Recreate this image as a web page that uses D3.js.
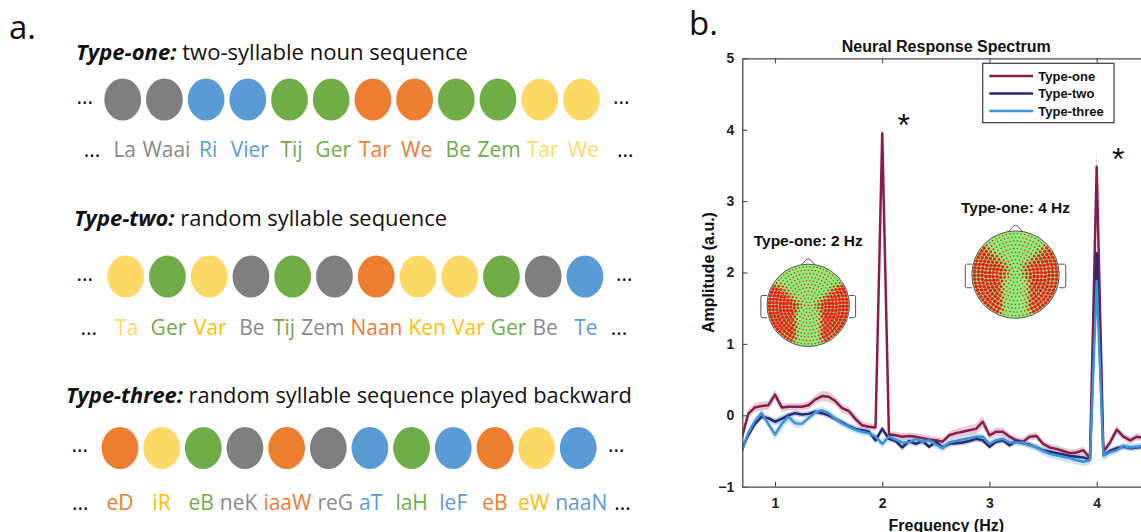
<!DOCTYPE html>
<html><head><meta charset="utf-8">
<script src="https://cdn.jsdelivr.net/npm/d3@7"></script>
<style>body{margin:0;background:#fff} svg{display:block}</style>
</head><body>
<svg id="c" width="1141" height="532"></svg>
<script>
// ---------------- DATA ----------------
// panel a
const headersBold = ["Type-one:", "Type-two:", "Type-three:"];
const headersText = ["two-syllable noun sequence", "random syllable sequence", "random syllable sequence played backward"];
const circlesOne   = ["gray","gray","blue","blue","green","green","orange","orange","green","green","yellow","yellow"];
const syllablesOne = ["La","Waai","Ri","Vier","Tij","Ger","Tar","We","Be","Zem","Tar","We"];
const sylColorsOne = ["gray","gray","blue","blue","green","green","orange","orange","green","green","yellow","yellow"];
const circlesTwo   = ["yellow","green","yellow","gray","green","gray","orange","yellow","yellow","green","gray","blue"];
const syllablesTwo = ["Ta","Ger","Var","Be","Tij","Zem","Naan","Ken","Var","Ger","Be","Te"];
const sylColorsTwo = ["yellow","green","gold","gray","green","gray","orange","gold","gold","green","gray","blue"];
const circlesThree   = ["orange","yellow","green","gray","orange","gray","blue","green","blue","orange","yellow","blue"];
const syllablesThree = ["eD","iR","eB","neK","iaaW","reG","aT","laH","leF","eB","eW","naaN"];
const sylColorsThree = ["orange","gold","green","gray","orange","gray","blue","green","blue","orange","gold","blue"];

// panel b
const seriesNames = ["Type-one", "Type-two", "Type-three"];
const freqs = [0.6875,0.75,0.8125,0.875,0.9375,1.0,1.0625,1.125,1.1875,1.25,
  1.3125,1.375,1.4375,1.5,1.5625,1.625,1.6875,1.75,1.8125,1.875,
  1.9375,2.0,2.0625,2.125,2.1875,2.25,2.3125,2.375,2.4375,2.5,
  2.5625,2.625,2.6875,2.75,2.8125,2.875,2.9375,3.0,3.0625,3.125,
  3.1875,3.25,3.3125,3.375,3.4375,3.5,3.5625,3.625,3.6875,3.75,
  3.8125,3.875,3.9375,4.0,4.0625,4.125,4.1875,4.25,4.3125,4.375,4.4375];
const typeOne = [-0.33,0.02,0.11,0.13,0.14,0.29,0.11,0.12,0.12,0.12,
  0.14,0.22,0.27,0.26,0.20,0.10,0.06,-0.05,-0.14,-0.16,
  -0.17,3.95,-0.27,-0.28,-0.30,-0.29,-0.30,-0.32,-0.34,-0.35,
  -0.37,-0.28,-0.25,-0.23,-0.21,-0.19,-0.09,-0.28,-0.23,-0.23,
  -0.30,-0.35,-0.37,-0.30,-0.29,-0.40,-0.45,-0.47,-0.50,-0.53,
  -0.52,-0.49,-0.60,3.48,-0.51,-0.38,-0.20,-0.30,-0.35,-0.30,-0.32];
const typeTwo = [-0.49,-0.28,-0.12,-0.02,-0.04,-0.09,-0.05,0.00,0.03,0.01,
  0.02,0.05,0.03,0.00,-0.05,-0.10,-0.15,-0.19,-0.21,-0.23,
  -0.35,-0.19,-0.33,-0.36,-0.45,-0.36,-0.40,-0.36,-0.44,-0.37,
  -0.45,-0.40,-0.39,-0.38,-0.36,-0.33,-0.35,-0.44,-0.37,-0.35,
  -0.42,-0.36,-0.39,-0.41,-0.45,-0.49,-0.51,-0.53,-0.55,-0.57,
  -0.58,-0.59,-0.62,2.27,-0.56,-0.50,-0.46,-0.44,-0.46,-0.45,-0.44];
const typeThree = [-0.51,-0.25,-0.08,0.03,-0.12,-0.27,-0.12,-0.02,-0.11,-0.12,
  -0.04,0.04,0.07,0.03,-0.05,-0.11,-0.16,-0.20,-0.23,-0.25,
  -0.30,-0.40,-0.30,-0.34,-0.38,-0.38,-0.33,-0.37,-0.35,-0.41,
  -0.46,-0.38,-0.36,-0.34,-0.32,-0.30,-0.30,-0.40,-0.35,-0.33,
  -0.38,-0.38,-0.38,-0.42,-0.45,-0.50,-0.54,-0.56,-0.58,-0.60,
  -0.63,-0.65,-0.63,1.88,-0.56,-0.52,-0.49,-0.43,-0.45,-0.44,-0.43];
const semOne = [0.06,0.06,0.06,0.06,0.06,0.07,0.06,0.05,0.05,0.05,
  0.06,0.06,0.07,0.07,0.06,0.06,0.06,0.06,0.06,0.05,
  0.05,0.18,0.05,0.05,0.05,0.05,0.05,0.05,0.05,0.05,
  0.05,0.05,0.06,0.06,0.07,0.07,0.08,0.06,0.06,0.06,
  0.05,0.05,0.05,0.05,0.05,0.05,0.05,0.05,0.05,0.05,
  0.05,0.05,0.05,0.26,0.06,0.06,0.06,0.05,0.05,0.05,0.05];
const semTwo = [0.05,0.05,0.05,0.04,0.04,0.05,0.05,0.04,0.04,0.04,
  0.04,0.04,0.04,0.04,0.04,0.04,0.04,0.04,0.04,0.04,
  0.05,0.05,0.04,0.04,0.05,0.04,0.04,0.04,0.04,0.04,
  0.04,0.04,0.04,0.04,0.04,0.04,0.04,0.04,0.04,0.04,
  0.04,0.04,0.04,0.04,0.04,0.04,0.04,0.04,0.04,0.04,
  0.04,0.04,0.04,0.15,0.05,0.04,0.04,0.04,0.04,0.04,0.04];
const semThree = [0.05,0.05,0.05,0.05,0.06,0.07,0.08,0.07,0.06,0.05,
  0.05,0.05,0.05,0.05,0.05,0.05,0.05,0.05,0.05,0.05,
  0.05,0.06,0.05,0.05,0.05,0.05,0.05,0.05,0.05,0.05,
  0.05,0.05,0.05,0.05,0.05,0.05,0.05,0.05,0.05,0.05,
  0.05,0.05,0.05,0.05,0.05,0.06,0.06,0.06,0.06,0.06,
  0.06,0.06,0.06,0.15,0.07,0.05,0.05,0.05,0.05,0.05,0.05];
const xTicks = [1, 2, 3, 4];
const yTicks = [-1, 0, 1, 2, 3, 4, 5];
const peakFreqs = [2, 4];           // significant peaks (asterisks)
const topoLabels = ["Type-one: 2 Hz", "Type-one: 4 Hz"];
// electrode significance maps read from the topoplots ('#' large dot, '+' medium, '.' small)
const maskTwoHz = [
  "...........",
  "...........",
  "+.........+",
  "##+.....+##",
  "###+...+###",
  "####+.+####",
  "####...####",
  "####...####",
  "+###...###+",
  "..+#...#+..",
  "..........."];
const maskFourHz = [
  "...........",
  "...........",
  "##+.....+##",
  "###+...+###",
  "####+.+####",
  "####+.+####",
  "####...####",
  "####...####",
  "+###...###+",
  ".+##...##+.",
  "..........."];

// ---------------- DRAW ----------------
const svg = d3.select("#c");
const pal = {gray:"#7f7f7f", blue:"#5b9bd5", green:"#70ad47", orange:"#ed7d31", yellow:"#ffd966", gold:"#ffc000"};
const txtPal = {gray:"#8a8a8a", blue:"#5b9bd5", green:"#70ad47", orange:"#ed7d31", yellow:"#ffd966", gold:"#ffc000"};
const LF = "'Open Sans', 'DejaVu Sans', sans-serif";

// panel label a.
svg.append("text").attr("x", 9).attr("y", 39).attr("font-family", LF).attr("font-size", 33).attr("fill", "#111").text("a.");

const rowLayout = [
  {hx:76, hy:60,    hw:392, cy:99.5,  cx0:122.7, step:41.7,  sy:156.7, dl:93,  dr:613, gl:13, gr:18, shift:2},
  {hx:74, hy:225.7, hw:373, cy:276.5, cx0:125.7, step:41.75, sy:335,   dl:93,  dr:616, gl:18, gr:13, shift:1},
  {hx:66, hy:403.3, hw:566, cy:448,   cx0:120,   step:41.66, sy:510,   dl:88,  dr:608, gl:18, gr:7,  shift:0}
];
const rowCircles = [circlesOne, circlesTwo, circlesThree];
const rowSyl = [syllablesOne, syllablesTwo, syllablesThree];
const rowSylCol = [sylColorsOne, sylColorsTwo, sylColorsThree];

function relax(centers, widths, gap) {
  const c = centers.slice();
  for (let it = 0; it < 300; it++) {
    let moved = false;
    for (let i = 0; i < c.length - 1; i++) {
      const need = widths[i] / 2 + widths[i + 1] / 2 + gap - (c[i + 1] - c[i]);
      if (need > 0.01) { c[i] -= need / 2; c[i + 1] += need / 2; moved = true; }
    }
    if (!moved) break;
  }
  return c;
}

rowLayout.forEach((L, r) => {
  const g = svg.append("g");
  const t = g.append("text").attr("x", L.hx).attr("y", L.hy).attr("font-family", LF)
    .attr("font-size", 21).attr("fill", "#111")
    .attr("textLength", L.hw).attr("lengthAdjust", "spacingAndGlyphs");
  t.append("tspan").attr("font-weight", 700).attr("font-style", "italic").text(headersBold[r]);
  t.append("tspan").text(" " + headersText[r]);

  const idx = d3.range(rowCircles[r].length);
  const xs = d3.scalePoint().domain(idx).range([L.cx0, L.cx0 + L.step * (idx.length - 1)]);
  g.selectAll("ellipse").data(rowCircles[r]).join("ellipse")
    .attr("cx", (d, i) => xs(i)).attr("cy", L.cy).attr("rx", 18.4).attr("ry", 21)
    .attr("fill", d => pal[d]);
  g.append("text").attr("x", L.dl).attr("y", L.cy + 4).attr("text-anchor", "end")
    .attr("font-family", LF).attr("font-size", 21).attr("fill", "#111").text("...");
  g.append("text").attr("x", L.dr).attr("y", L.cy + 4)
    .attr("font-family", LF).attr("font-size", 21).attr("fill", "#111").text("...");

  const syl = g.selectAll("text.syl").data(rowSyl[r]).join("text").attr("class", "syl")
    .attr("x", (d, i) => xs(i)).attr("y", L.sy).attr("text-anchor", "middle")
    .attr("font-family", LF).attr("font-size", 21)
    .attr("fill", (d, i) => txtPal[rowSylCol[r][i]]).text(d => d);
  const widths = syl.nodes().map(n => n.getComputedTextLength());
  const centers = relax(idx.map(i => xs(i) + L.shift), widths, 6);
  syl.attr("x", (d, i) => centers[i]);
  const n = centers.length - 1;
  g.append("text").attr("x", centers[0] - widths[0] / 2 - L.gl).attr("y", L.sy).attr("text-anchor", "end")
    .attr("font-family", LF).attr("font-size", 21).attr("fill", "#111").text("...");
  g.append("text").attr("x", centers[n] + widths[n] / 2 + L.gr).attr("y", L.sy)
    .attr("font-family", LF).attr("font-size", 21).attr("fill", "#111").text("...");
});

// ---------- panel b ----------
const CF = "'Liberation Sans', Arial, Helvetica, sans-serif";
svg.append("text").attr("x", 689).attr("y", 35).attr("font-family", LF).attr("font-size", 33).attr("fill", "#111").text("b.");

const X = d3.scaleLinear().domain([0.695, 4.5]).range([742.3, 1150.3]);
const Y = d3.scaleLinear().domain([-1, 5]).range([486.7, 58.3]);
const axCol = "#4a4a4a";

svg.append("defs").append("clipPath").attr("id", "plotclip").append("rect")
  .attr("x", X(0.695)).attr("y", Y(5)).attr("width", X(4.5) - X(0.695)).attr("height", Y(-1) - Y(5));

const colors = ["#8a1c4c", "#232a6e", "#3d91d6"];
const bandColors = ["#c996ae", "#8e94c4", "#9ccaf0"];
const vals = [typeOne, typeTwo, typeThree];
const sems = [semOne, semTwo, semThree];

const plot = svg.append("g").attr("clip-path", "url(#plotclip)");
vals.forEach((v, k) => {
  const area = d3.area().x((d, i) => X(freqs[i])).y0((d, i) => Y(d - sems[k][i])).y1((d, i) => Y(d + sems[k][i]));
  plot.append("path").datum(v).attr("d", area).attr("fill", bandColors[k]).attr("opacity", 0.5);
});
vals.forEach((v, k) => {
  const line = d3.line().x((d, i) => X(freqs[i])).y(d => Y(d));
  plot.append("path").datum(v).attr("d", line).attr("fill", "none")
    .attr("stroke", colors[k]).attr("stroke-width", 2.5).attr("stroke-linejoin", "round");
});

// axes
const styleAxis = g => {
  g.selectAll(".domain").attr("stroke", axCol).attr("stroke-width", 1.3);
  g.selectAll(".tick line").attr("stroke", axCol).attr("stroke-width", 1.1);
  g.selectAll(".tick text").attr("font-family", CF).attr("font-weight", 700).attr("font-size", 14).attr("fill", "#222");
};
svg.append("g").attr("transform", `translate(0,${Y(-1)})`)
  .call(d3.axisBottom(X).tickValues(xTicks).tickSizeInner(-5).tickSizeOuter(0).tickPadding(11).tickFormat(d3.format("d")))
  .call(styleAxis);
svg.append("g").attr("transform", `translate(0,${Y(5)})`)
  .call(d3.axisTop(X).tickValues(xTicks).tickSizeInner(-5).tickSizeOuter(0).tickFormat(""))
  .call(styleAxis);
svg.append("g").attr("transform", `translate(${X(0.695)},0)`)
  .call(d3.axisLeft(Y).tickValues(yTicks).tickSizeInner(-5).tickSizeOuter(0).tickPadding(8).tickFormat(d3.format("d")))
  .call(styleAxis);

// titles
svg.append("text").attr("x", (X(0.695) + X(4.5)) / 2).attr("y", 52).attr("text-anchor", "middle")
  .attr("font-family", CF).attr("font-weight", 700).attr("font-size", 16).attr("fill", "#111")
  .text("Neural Response Spectrum");
svg.append("text").attr("x", (X(0.695) + X(4.5)) / 2).attr("y", 531).attr("text-anchor", "middle")
  .attr("font-family", CF).attr("font-weight", 700).attr("font-size", 16).attr("fill", "#111")
  .text("Frequency (Hz)");
svg.append("text").attr("transform", `translate(714,${(Y(-1) + Y(5)) / 2}) rotate(-90)`).attr("text-anchor", "middle")
  .attr("font-family", CF).attr("font-weight", 700).attr("font-size", 16).attr("fill", "#111")
  .text("Amplitude (a.u.)");

// asterisks
const peakTops = [typeOne[freqs.indexOf(2)], typeOne[freqs.indexOf(4)]];
peakFreqs.forEach((f, i) => {
  svg.append("text").attr("x", X(f + 0.2)).attr("y", Y(peakTops[i]) + 3).attr("text-anchor", "middle")
    .attr("font-family", CF).attr("font-size", 32).attr("fill", "#111").text("*");
});

// legend
const lg = svg.append("g");
lg.append("rect").attr("x", 982.7).attr("y", 63.3).attr("width", 131.3).attr("height", 59.4)
  .attr("fill", "#fff").attr("stroke", "#3a3a3a").attr("stroke-width", 1.2);
seriesNames.forEach((n, k) => {
  const yy = 76 + k * 17.5;
  lg.append("line").attr("x1", 989.3).attr("x2", 1033).attr("y1", yy).attr("y2", yy)
    .attr("stroke", colors[k]).attr("stroke-width", 2.5);
  lg.append("text").attr("x", 1038.3).attr("y", yy + 4.6).attr("font-family", CF)
    .attr("font-weight", 700).attr("font-size", 13).attr("fill", "#111").text(n);
});

// topoplots
const maskLevel = {"#": 1, "+": 0.5, ".": 0};
function maskValue(mask, x, y) {
  const gx = Math.max(0, Math.min(10, (x + 1) / 2 * 10));
  const gy = Math.max(0, Math.min(10, (y + 1) / 2 * 10));
  const x0 = Math.floor(gx), y0 = Math.floor(gy);
  const x1 = Math.min(10, x0 + 1), y1 = Math.min(10, y0 + 1);
  const fx = gx - x0, fy = gy - y0;
  const v = (r, c) => maskLevel[mask[r][c]];
  return (v(y0, x0) * (1 - fx) + v(y0, x1) * fx) * (1 - fy) + (v(y1, x0) * (1 - fx) + v(y1, x1) * fx) * fy;
}
function drawHead(cxv, cyv, r, mask, label, labelY) {
  const cx = X(cxv), cy = Y(cyv);
  const g = svg.append("g");
  g.append("path").attr("d", `M${cx - 0.16 * r},${cy - 0.985 * r} L${cx - 0.05 * r},${cy - 1.11 * r} Q${cx},${cy - 1.14 * r} ${cx + 0.05 * r},${cy - 1.11 * r} L${cx + 0.16 * r},${cy - 0.985 * r}`)
    .attr("fill", "#fff").attr("stroke", "#555").attr("stroke-width", 1);
  [-1, 1].forEach(s => {
    const x0 = cx + s * 0.995 * r, x1 = cx + s * 1.15 * r;
    g.append("path").attr("d", `M${x0},${cy - 0.24 * r} L${x1 - s * 0.03 * r},${cy - 0.24 * r} Q${x1},${cy - 0.24 * r} ${x1},${cy - 0.18 * r} L${x1},${cy + 0.24 * r} Q${x1},${cy + 0.3 * r} ${x1 - s * 0.03 * r},${cy + 0.3 * r} L${x0},${cy + 0.3 * r}`)
      .attr("fill", "#fff").attr("stroke", "#555").attr("stroke-width", 1);
  });
  g.append("circle").attr("cx", cx).attr("cy", cy).attr("r", r).attr("fill", "#8cf078").attr("stroke", "#555").attr("stroke-width", 1);
  const elec = [];
  for (let k = 0; k <= 11; k++) {
    const rr = k / 11.7;
    const n = k === 0 ? 1 : Math.round(6.3 * k);
    for (let j = 0; j < n; j++) {
      const a = (j + (k % 2) * 0.5) / n * 2 * Math.PI;
      elec.push([rr * Math.sin(a), -rr * Math.cos(a)]);
    }
  }
  g.selectAll("circle.e").data(elec).join("circle").attr("class", "e")
    .attr("cx", d => cx + d[0] * r).attr("cy", d => cy + d[1] * r)
    .attr("r", d => {
      const v = maskValue(mask, d[0], d[1]);
      const s = v * v * (3 - 2 * v);
      return 0.75 + 1.05 * s;
    })
    .attr("fill", "#f21a1a");
  svg.append("text").attr("x", cx).attr("y", Y(labelY)).attr("text-anchor", "middle")
    .attr("font-family", CF).attr("font-weight", 700).attr("font-size", 15.5).attr("fill", "#111").text(label);
}
drawHead(1.31, 1.54, 41.2, maskTwoHz, topoLabels[0], 2.37);
drawHead(3.243, 1.97, 43.7, maskFourHz, topoLabels[1], 2.83);
</script>
</body></html>
